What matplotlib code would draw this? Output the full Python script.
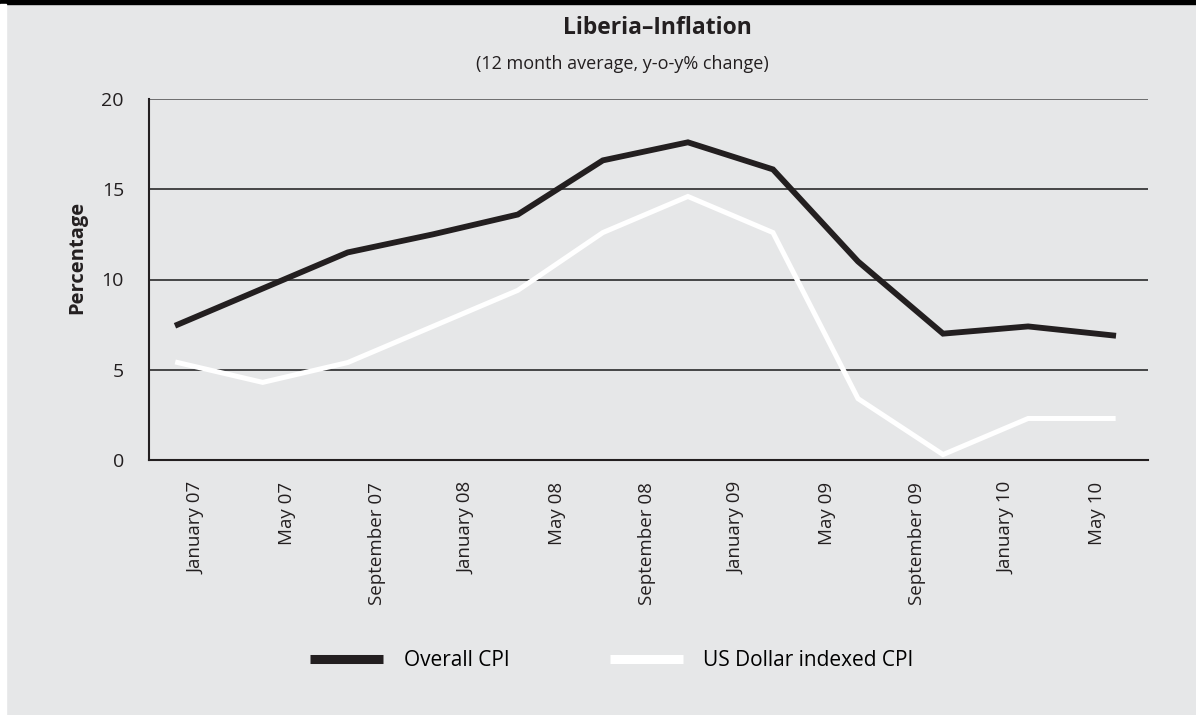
import numpy as np
import matplotlib
matplotlib.use('Agg')
import matplotlib.pyplot as plt
from matplotlib.lines import Line2D
from matplotlib.patches import Rectangle

plt.rcParams['font.family'] = ['Open Sans', 'DejaVu Sans']

overall_cpi = [7.5, 9.5, 11.5, 12.5, 13.6, 16.6, 17.6, 16.1, 11.0, 7.0, 7.4, 6.9]
usd_indexed_cpi = [5.4, 4.3, 5.4, 7.4, 9.4, 12.6, 14.6, 12.6, 3.4, 0.3, 2.3, 2.3]
month_labels = ['January 07', 'May 07', 'September 07', 'January 08', 'May 08',
                'September 08', 'January 09', 'May 09', 'September 09',
                'January 10', 'May 10']
y_ticks = [0, 5, 10, 15, 20]

bg = '#e6e7e8'
dark = '#231f20'

fig = plt.figure(figsize=(11.96, 7.15), dpi=100, facecolor=bg)
ax = fig.add_axes([149 / 1196, 1 - 460 / 715, 999 / 1196, 361 / 715])
ax.set_facecolor(bg)

x = np.arange(len(overall_cpi))
ax.plot(x, overall_cpi, color=dark, lw=4.2, solid_joinstyle='miter', zorder=3)
ax.plot(x, usd_indexed_cpi, color='white', lw=3.6, solid_joinstyle='miter', zorder=3)

ax.set_xlim(-0.337, 11.41)
ax.set_ylim(0, 20)

# gridlines
for v in y_ticks[1:]:
    ax.axhline(v, color='#1a1a1a' if v < 20 else '#4d4d4d', lw=1.1, zorder=1)

for s in ['top', 'right']:
    ax.spines[s].set_visible(False)
ax.spines['left'].set_linewidth(1.5)
ax.spines['bottom'].set_linewidth(1.5)
ax.spines['left'].set_color(dark)
ax.spines['bottom'].set_color(dark)

ax.set_yticks(y_ticks)
ax.set_yticklabels([str(v) for v in y_ticks], fontsize=14, color=dark)
ax.tick_params(axis='y', length=0, pad=18)

ax.set_xticks(np.linspace(0.223, 10.805, len(month_labels)))
ax.set_xticklabels(month_labels, rotation=90, fontsize=13.5, color=dark, va='top', ha='center')
ax.tick_params(axis='x', length=0, pad=16)

ax.set_ylabel('Percentage', fontsize=14.5, fontweight='bold', color=dark)
ax.yaxis.set_label_coords(-0.062, 0.56)

fig.text(0.55, 1 - 28 / 715, 'Liberia\u2013Inflation', ha='center', va='center',
         fontsize=16.5, fontweight='bold', color=dark)
fig.text(0.52, 1 - 64 / 715, '(12 month average, y-o-y% change)', ha='center', va='center',
         fontsize=13, color=dark)

handles = [Line2D([], [], color=dark, lw=6.5, solid_capstyle='butt'),
           Line2D([], [], color='white', lw=6.5, solid_capstyle='butt')]
fig.legend(handles, ['Overall CPI', 'US Dollar indexed CPI'], loc='center',
           bbox_to_anchor=(612 / 1196, 1 - 661 / 715), ncol=2, frameon=False,
           fontsize=15, handlelength=3.5, handletextpad=1.0, columnspacing=4.8)

# top black bar and thin white strip at the left edge
fig.patches.append(Rectangle((0, 1 - 4 / 715), 1, 4 / 715, transform=fig.transFigure,
                             color='black', zorder=10))
fig.patches.append(Rectangle((0, 0), 6 / 1196, 1 - 4 / 715, transform=fig.transFigure,
                             color='white', zorder=10))

fig.savefig('out.png', dpi=100, facecolor=bg)
